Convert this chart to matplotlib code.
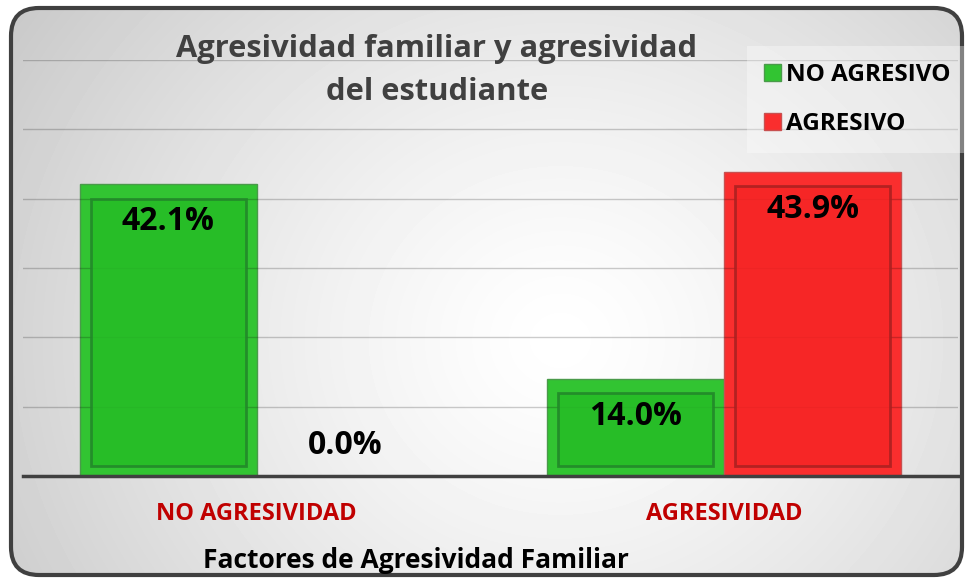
import numpy as np
import matplotlib.pyplot as plt
from matplotlib.patches import FancyBboxPatch

plt.rcParams['font.family'] = ['Open Sans', 'DejaVu Sans']

categories = ["NO AGRESIVIDAD", "AGRESIVIDAD"]
series_names = ["NO AGRESIVO", "AGRESIVO"]
no_agresivo = [42.1, 14.0]
agresivo = [0.0, 43.9]

W, H = 965, 578
fig = plt.figure(figsize=(W / 100, H / 100), dpi=100)
fig.patch.set_facecolor("white")

# fondo con degradado radial, recortado al recuadro redondeado
bg = fig.add_axes([0, 0, 1, 1])
bg.set_xlim(0, W)
bg.set_ylim(H, 0)
bg.axis("off")
yy, xx = np.mgrid[0:H, 0:W]
d = np.sqrt((xx - 560.0) ** 2 + ((yy - 340.0) * 1.1) ** 2) / 650.0
grad = 1 - 0.21 * np.clip(d, 0, 1.2) ** 1.3
box = FancyBboxPatch((11, 8), 951, 567, boxstyle="round,pad=0,rounding_size=28",
                     facecolor="none", edgecolor="#404040", linewidth=3, zorder=5)
bg.add_patch(box)
img = bg.imshow(grad, cmap="gray", vmin=0, vmax=1, extent=[0, W, H, 0], zorder=0)
img.set_clip_path(box)

ax = fig.add_axes([23 / W, 1 - 476 / H, 935 / W, 416 / H])
ax.set_facecolor("none")

x = np.arange(len(categories))
w = 0.379
greens = ax.bar(x - w / 2, no_agresivo, w, color="#32C432", edgecolor="#4a9a4a",
                linewidth=1, zorder=2, label=series_names[0])
reds = ax.bar(x + w / 2, agresivo, w, color="#FA2E2E", edgecolor="#c85050",
              linewidth=1, zorder=2, label=series_names[1])

# marco interior (efecto bisel)
ix, iy = 0.024, 1.4
for bars, face, dark in [(greens, "#26BC26", "#22852a"), (reds, "#F62525", "#a82020")]:
    for b in bars:
        h = b.get_height()
        if h <= 0:
            continue
        ax.bar(b.get_x() + b.get_width() / 2, h - 2.5 * iy, b.get_width() - 2 * ix,
               bottom=iy, facecolor=face, edgecolor=dark, linewidth=2,
               alpha=0.85, zorder=3)

for bars in (greens, reds):
    for b in bars:
        h = b.get_height()
        off = -27 if h > 0 else 22
        ax.annotate(f"{h:.1f}%", (b.get_x() + b.get_width() / 2, h),
                    xytext=(0, off), textcoords="offset points",
                    ha="center", va="center", fontsize=23, fontweight="bold",
                    color="black", zorder=6)

ax.set_xlim(-0.5, 1.5)
ax.set_ylim(0, 60)
ax.set_yticks(np.arange(0, 61, 10))
ax.set_yticklabels([])
ax.set_axisbelow(False)
ax.yaxis.grid(True, color="black", alpha=0.2, linewidth=1, zorder=4)
ax.tick_params(length=0)
ax.set_xticks(x)
ax.set_xticklabels(categories, fontsize=17, fontweight="bold", color="#C00000")
ax.tick_params(axis="x", pad=19)
for s in ("left", "right", "top"):
    ax.spines[s].set_visible(False)
ax.spines["bottom"].set_color("#404040")
ax.spines["bottom"].set_linewidth(2.5)
ax.spines["bottom"].set_zorder(5)

fig.text(437 / W, 1 - 57 / H, "Agresividad familiar y agresividad", ha="center",
         va="baseline", fontsize=22.2, fontweight="bold", color="#404040")
fig.text(437 / W, 1 - 100 / H, "del estudiante", ha="center",
         va="baseline", fontsize=22.2, fontweight="bold", color="#404040")
fig.text(416 / W, 1 - 568 / H, "Factores de Agresividad Familiar", ha="center",
         va="baseline", fontsize=19, fontweight="bold", color="black")

leg = ax.legend(handles=[greens, reds], loc="upper left",
                bbox_to_anchor=(747 / W, 1 - 46 / H), bbox_transform=fig.transFigure,
                borderaxespad=0, prop={"weight": "bold", "size": 17.5},
                handlelength=0.7, handleheight=0.7, handletextpad=0.2,
                labelspacing=1.03, borderpad=0.7, frameon=True, fancybox=False)
leg.get_frame().set_facecolor("white")
leg.get_frame().set_alpha(0.35)
leg.get_frame().set_edgecolor("none")
leg.set_zorder(7)

fig.savefig("out.png", dpi=100)
